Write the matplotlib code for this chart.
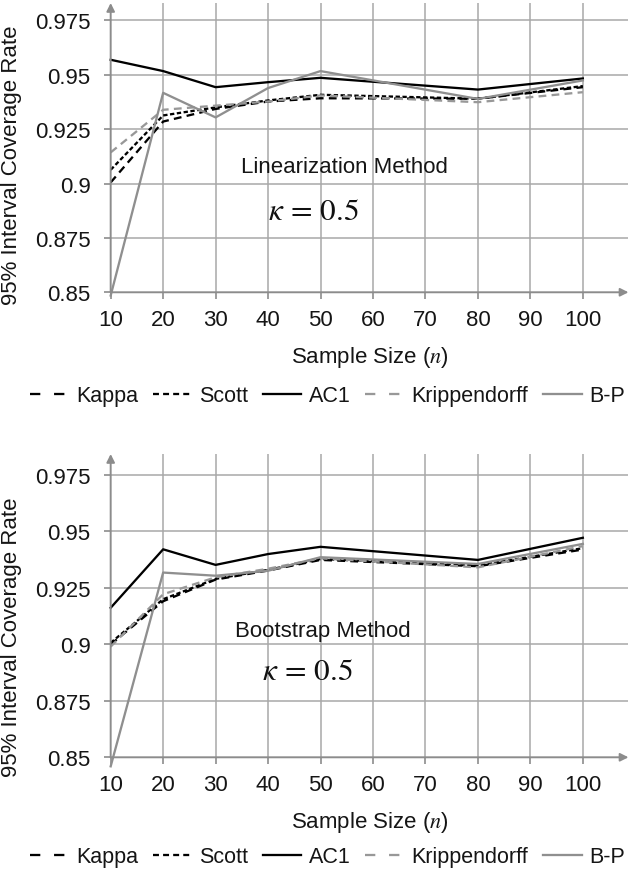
import numpy as np
import matplotlib
matplotlib.use('Agg')
import matplotlib.pyplot as plt

plt.rcParams['font.family'] = ['Liberation Sans', 'DejaVu Sans']
plt.rcParams['mathtext.fontset'] = 'stix'

# donnees
n = [10, 20, 30, 40, 50, 80, 100]
series = ['Kappa', 'Scott', 'AC1', 'Krippendorff', 'B-P']

lin_kappa = [0.9005, 0.9285, 0.9343, 0.9377, 0.9392, 0.9390, 0.9443]
lin_scott = [0.9063, 0.9313, 0.9350, 0.9382, 0.9408, 0.9390, 0.9448]
lin_ac1 = [0.9569, 0.9517, 0.9443, 0.9466, 0.9486, 0.9432, 0.9483]
lin_kripp = [0.9143, 0.9339, 0.9358, 0.9377, 0.9405, 0.9374, 0.9420]
lin_bp = [0.8485, 0.9417, 0.9304, 0.9439, 0.9517, 0.9389, 0.9474]

boot_kappa = [0.9000, 0.9191, 0.9287, 0.9327, 0.9374, 0.9346, 0.9420]
boot_scott = [0.9007, 0.9200, 0.9290, 0.9330, 0.9378, 0.9349, 0.9426]
boot_ac1 = [0.9162, 0.9421, 0.9352, 0.9400, 0.9432, 0.9374, 0.9472]
boot_kripp = [0.8990, 0.9222, 0.9297, 0.9335, 0.9381, 0.9341, 0.9435]
boot_bp = [0.8460, 0.9318, 0.9304, 0.9326, 0.9386, 0.9356, 0.9445]

x_ticks = [10, 20, 30, 40, 50, 60, 70, 80, 90, 100]
y_ticks = [0.85, 0.875, 0.9, 0.925, 0.95, 0.975]
y_labels = ['0.85', '0.875', '0.9', '0.925', '0.95', '0.975']

gris = '#a8a8a8'
gris_axe = '#8c8c8c'
texte = '#151515'
styles = {
    'Kappa': dict(color='black', dashes=(3.4, 2.3)),
    'Scott': dict(color='black', dashes=(1.9, 1.1)),
    'AC1': dict(color='black'),
    'Krippendorff': dict(color='#989898', dashes=(3.4, 2.3)),
    'B-P': dict(color='#8f8f8f'),
}
# tirets un peu plus longs dans la legende (comme Excel)
tirets_legende = {'Kappa': (4.5, 6.0), 'Scott': (2.6, 1.8), 'Krippendorff': (4.5, 6.0)}

fig = plt.figure(figsize=(6.31, 8.7), dpi=100)
ax1 = fig.add_axes([0.1754, 0.6629, 0.8206, 0.3325])
ax2 = fig.add_axes([0.1754, 0.1284, 0.8206, 0.3486])


def panel(ax, data, ymax, titre, pos_titre, pos_kappa, y_lab, y_leg):
    for nom, vals in zip(series, data):
        ax.plot(n, vals, lw=1.65, label=nom, clip_on=False, **styles[nom])
    ax.set_xlim(10, 108.7)
    ax.set_ylim(0.85, ymax)
    ax.set_xticks(x_ticks)
    ax.set_yticks(y_ticks)
    ax.set_yticklabels(y_labels)
    for v in x_ticks[1:]:
        ax.axvline(v, color=gris, lw=1.1, zorder=0)
    for v in y_ticks[1:]:
        ax.axhline(v, color=gris, lw=1.1, zorder=0)
    for s in ['top', 'right', 'left', 'bottom']:
        ax.spines[s].set_visible(False)
    # axes avec fleches
    ax.annotate('', xy=(1, 0), xytext=(0, 0), xycoords='axes fraction',
                arrowprops=dict(arrowstyle='-|>', color=gris_axe, lw=1.4,
                                mutation_scale=12, shrinkA=0, shrinkB=0))
    ax.annotate('', xy=(0, 1), xytext=(0, 0), xycoords='axes fraction',
                arrowprops=dict(arrowstyle='-|>', color=gris_axe, lw=1.4,
                                mutation_scale=12, shrinkA=0, shrinkB=0))
    ax.tick_params(colors=gris_axe, labelcolor=texte, labelsize=16,
                   length=5, width=1.2)
    ax.tick_params(axis='x', pad=7)
    ax.tick_params(axis='y', pad=9.5)
    ax.set_xlabel('Sample Size ($n$)', fontsize=16, color=texte, labelpad=10)
    fig.text(0.019, y_lab, '95% Interval Coverage Rate', fontsize=16, color=texte,
             rotation=90, ha='center', va='center')
    ax.text(pos_titre[0], pos_titre[1], titre, fontsize=16, ha='center', va='center',
            color=texte)
    ax.text(pos_kappa[0], pos_kappa[1], r'$\kappa\, =\, 0.5$', fontsize=22.5,
            ha='center', va='center', color='#111111')
    leg = ax.legend(loc='center', bbox_to_anchor=(0.519, y_leg), bbox_transform=fig.transFigure,
                    ncol=5, frameon=False, fontsize=15.5, handlelength=1.8,
                    columnspacing=0.68, handletextpad=0.35, borderpad=0, borderaxespad=0)
    for ligne, nom in zip(leg.get_lines(), series):
        if nom in tirets_legende:
            ligne.set_dashes(tirets_legende[nom])
    for t in leg.get_texts():
        t.set_color(texte)


panel(ax1, [lin_kappa, lin_scott, lin_ac1, lin_kripp, lin_bp], 0.983,
      'Linearization Method', (54.55, 0.908), (48.6, 0.8874), 1 - 165 / 870, 1 - 397 / 870)
panel(ax2, [boot_kappa, boot_scott, boot_ac1, boot_kripp, boot_bp], 0.9843,
      'Bootstrap Method', (50.35, 0.906), (47.45, 0.8881), 1 - 637 / 870, 1 - 858 / 870)

fig.savefig('out.png', dpi=100)
